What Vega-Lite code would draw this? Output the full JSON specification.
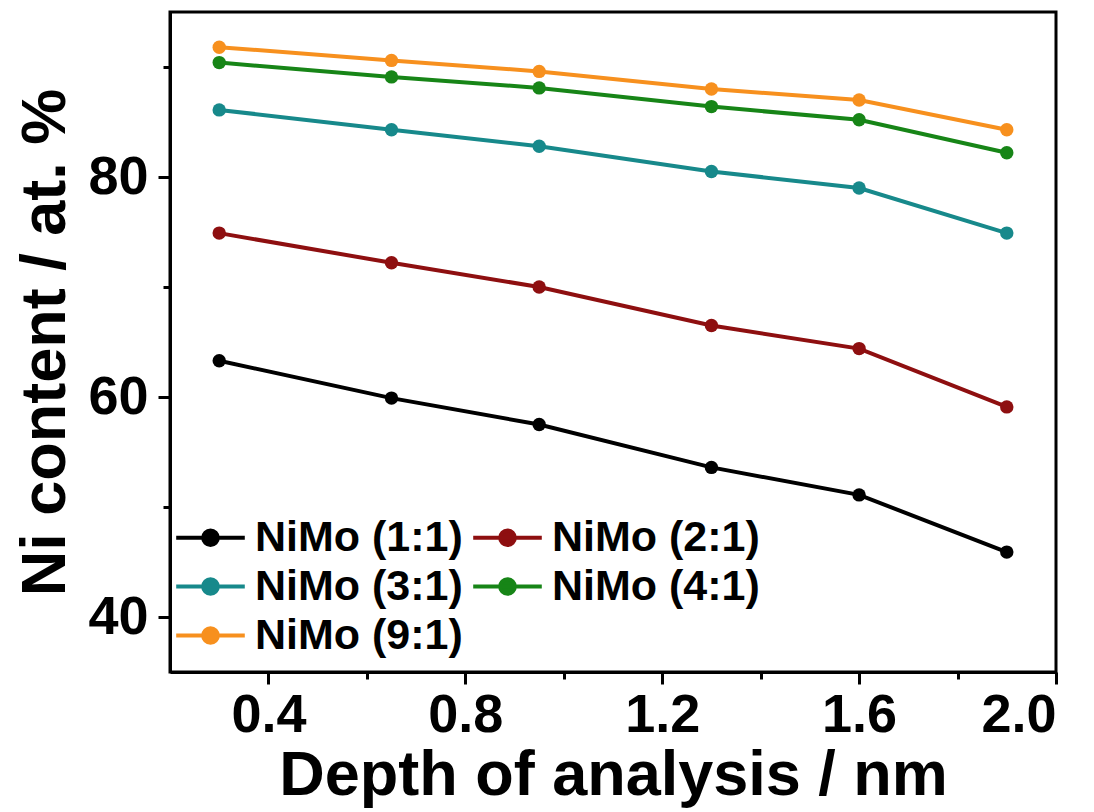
{
  "$schema": "https://vega.github.io/schema/vega-lite/v6.json",
  "width": 886,
  "height": 660,
  "autosize": {"type": "none"},
  "padding": {"left": 170, "top": 12, "right": 38, "bottom": 140},
  "background": "white",
  "config": {
    "font": "Liberation Sans",
    "view": {"stroke": "black", "strokeWidth": 3},
    "axis": {
      "domainColor": "black",
      "domainWidth": 3,
      "tickColor": "black",
      "tickWidth": 3,
      "grid": false,
      "labelFont": "Liberation Sans",
      "labelFontWeight": "bold",
      "labelFontSize": 54,
      "labelColor": "black",
      "labelOverlap": false,
      "titleFont": "Liberation Sans",
      "titleFontWeight": "bold",
      "titleFontSize": 63,
      "titleColor": "black"
    }
  },
  "data": {
    "values": [
      {"depth": 0.3, "ni": 63.3, "sample": "NiMo (1:1)"},
      {"depth": 0.65, "ni": 59.9, "sample": "NiMo (1:1)"},
      {"depth": 0.95, "ni": 57.5, "sample": "NiMo (1:1)"},
      {"depth": 1.3, "ni": 53.6, "sample": "NiMo (1:1)"},
      {"depth": 1.6, "ni": 51.1, "sample": "NiMo (1:1)"},
      {"depth": 1.9, "ni": 45.9, "sample": "NiMo (1:1)"},
      {"depth": 0.3, "ni": 74.9, "sample": "NiMo (2:1)"},
      {"depth": 0.65, "ni": 72.2, "sample": "NiMo (2:1)"},
      {"depth": 0.95, "ni": 70.0, "sample": "NiMo (2:1)"},
      {"depth": 1.3, "ni": 66.5, "sample": "NiMo (2:1)"},
      {"depth": 1.6, "ni": 64.4, "sample": "NiMo (2:1)"},
      {"depth": 1.9, "ni": 59.1, "sample": "NiMo (2:1)"},
      {"depth": 0.3, "ni": 86.1, "sample": "NiMo (3:1)"},
      {"depth": 0.65, "ni": 84.3, "sample": "NiMo (3:1)"},
      {"depth": 0.95, "ni": 82.8, "sample": "NiMo (3:1)"},
      {"depth": 1.3, "ni": 80.5, "sample": "NiMo (3:1)"},
      {"depth": 1.6, "ni": 79.0, "sample": "NiMo (3:1)"},
      {"depth": 1.9, "ni": 74.9, "sample": "NiMo (3:1)"},
      {"depth": 0.3, "ni": 90.4, "sample": "NiMo (4:1)"},
      {"depth": 0.65, "ni": 89.1, "sample": "NiMo (4:1)"},
      {"depth": 0.95, "ni": 88.1, "sample": "NiMo (4:1)"},
      {"depth": 1.3, "ni": 86.4, "sample": "NiMo (4:1)"},
      {"depth": 1.6, "ni": 85.2, "sample": "NiMo (4:1)"},
      {"depth": 1.9, "ni": 82.2, "sample": "NiMo (4:1)"},
      {"depth": 0.3, "ni": 91.8, "sample": "NiMo (9:1)"},
      {"depth": 0.65, "ni": 90.6, "sample": "NiMo (9:1)"},
      {"depth": 0.95, "ni": 89.6, "sample": "NiMo (9:1)"},
      {"depth": 1.3, "ni": 88.0, "sample": "NiMo (9:1)"},
      {"depth": 1.6, "ni": 87.0, "sample": "NiMo (9:1)"},
      {"depth": 1.9, "ni": 84.3, "sample": "NiMo (9:1)"}
    ]
  },
  "encoding": {
    "x": {
      "field": "depth",
      "type": "quantitative",
      "scale": {"domain": [0.2, 2.0], "nice": false, "zero": false},
      "axis": {
        "title": "Depth of analysis / nm",
        "values": [0.4, 0.6, 0.8, 1.0, 1.2, 1.4, 1.6, 1.8, 2.0],
        "labelExpr": "round(datum.value*10) % 4 === 0 ? format(datum.value, '.1f') : ''",
        "tickSize": {"condition": {"test": "round(datum.value*10) % 4 === 0", "value": 12}, "value": 7},
        "labelPadding": 4,
        "titlePadding": 2
      }
    },
    "y": {
      "field": "ni",
      "type": "quantitative",
      "scale": {"domain": [35, 95], "nice": false, "zero": false},
      "axis": {
        "title": "Ni content / at. %",
        "values": [40, 50, 60, 70, 80, 90],
        "labelExpr": "datum.value % 20 === 0 ? format(datum.value, 'd') : ''",
        "tickSize": {"condition": {"test": "datum.value % 20 === 0", "value": 12}, "value": 7},
        "labelPadding": 10,
        "titlePadding": 10
      }
    },
    "color": {
      "field": "sample",
      "type": "nominal",
      "scale": {
        "domain": ["NiMo (1:1)", "NiMo (2:1)", "NiMo (3:1)", "NiMo (4:1)", "NiMo (9:1)"],
        "range": ["#000000", "#8e0f10", "#17898b", "#178517", "#f7901e"]
      },
      "legend": {
        "title": null,
        "orient": "bottom-left",
        "direction": "horizontal",
        "offset": 14,
        "padding": 0,
        "columns": 2,
        "columnPadding": 2,
        "rowPadding": 0,
        "labelFont": "Liberation Sans",
        "labelFontWeight": "bold",
        "labelFontSize": 43,
        "labelLimit": 0,
        "labelColor": "black",
        "labelOffset": 18,
        "symbolType": "M-1.4,0H1.4M-0.3,0a0.3,0.3 0 1,0 0.6,0a0.3,0.3 0 1,0 -0.6,0",
        "symbolSize": 2400,
        "symbolStrokeWidth": 4,
        "encode": {
          "symbols": {
            "update": {
              "fill": {"scale": "color", "field": "value"},
              "stroke": {"scale": "color", "field": "value"},
              "opacity": {"value": 1}
            }
          }
        }
      }
    }
  },
  "layer": [
    {"mark": {"type": "line", "strokeWidth": 4}},
    {"mark": {"type": "point", "filled": true, "size": 180, "opacity": 1}}
  ]
}
